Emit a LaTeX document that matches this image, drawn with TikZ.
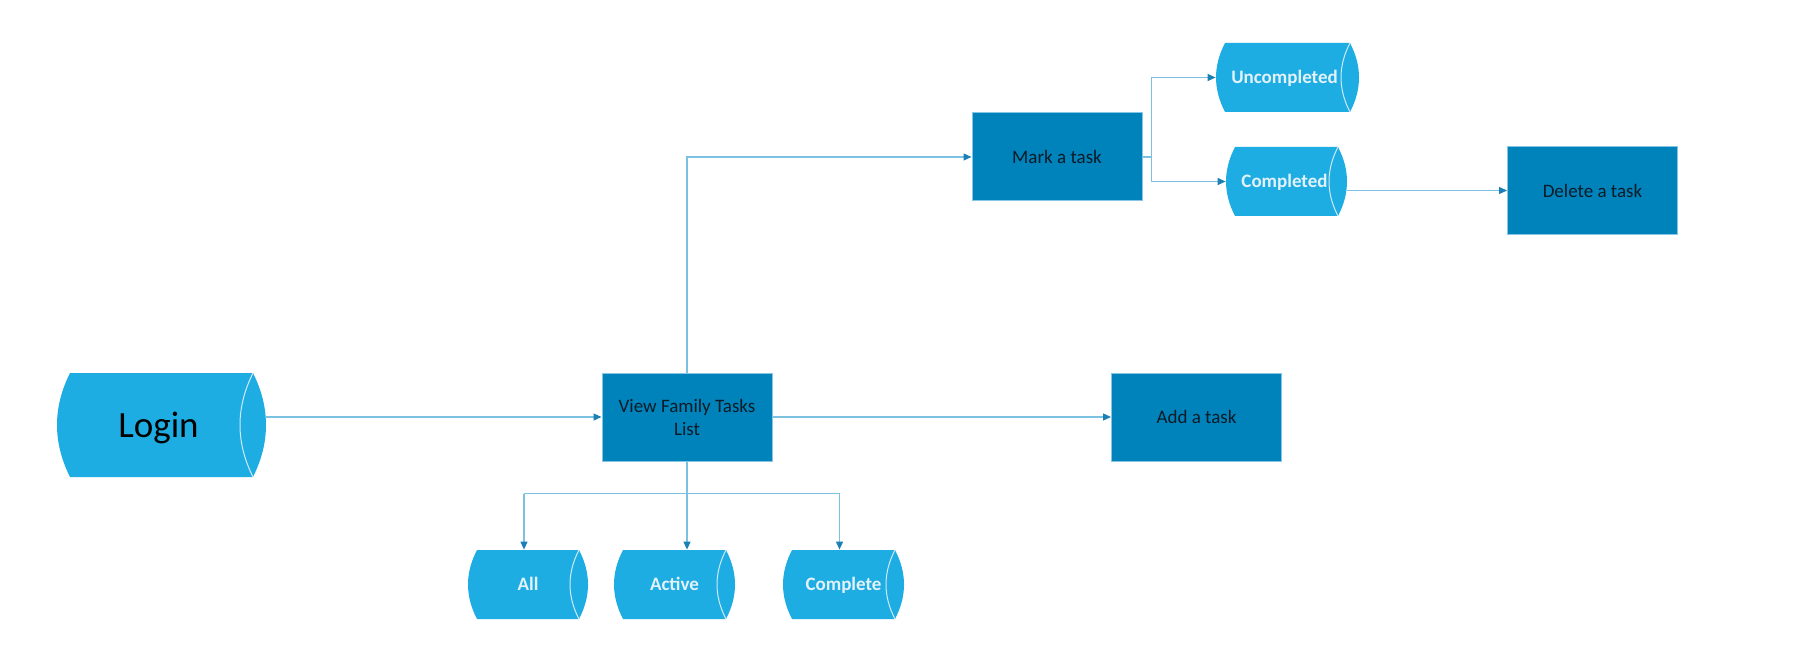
\documentclass[tikz,border=0pt]{standalone}
\usepackage{fontspec}
\setmainfont{Carlito}
\usetikzlibrary{arrows.meta}

\definecolor{boxblue}{HTML}{0083BA}
\definecolor{drumblue}{HTML}{1EADE3}
\definecolor{linkblue}{HTML}{7CC0E2}
\definecolor{tipblue}{HTML}{1A80B6}
\definecolor{rimwhite}{HTML}{CFEAF7}
\definecolor{boxedge}{HTML}{86C6E4}
\definecolor{darktext}{HTML}{0B1B28}
\definecolor{lighttext}{HTML}{E3F2FA}

\tikzset{
  stepbox/.style={rectangle, fill=boxblue, draw=boxedge, line width=0.5pt,
    minimum width=85pt, minimum height=44pt, inner sep=0pt, text=darktext,
    font=\fontsize{9.5pt}{11.5pt}\selectfont, align=center},
  drumlabel/.style={inner sep=0pt, text=lighttext, text height=6.1pt, text depth=0pt,
    font=\bfseries\fontsize{9.5pt}{11.5pt}\selectfont},
  biglabel/.style={inner sep=0pt, text=black, text height=12pt, text depth=0pt,
    font=\fontsize{18.5pt}{22pt}\selectfont},
  drumfill/.style={fill=drumblue},
  drumrim/.style={draw=rimwhite, line width=0.5pt},
  link/.style={draw=linkblue, line width=0.6pt},
  arrow/.style={link, -{Triangle[length=4pt,width=3.5pt,color=tipblue]}},
}

% #1 label style, #2 name, #3 cx, #4 cy, #5 half flat width, #6 half height, #7 bulge, #8 text
\newcommand\drum[8]{%
  \fill[drumfill] ({#3-#5},{#4-#6}) -- ({#3+#5},{#4-#6})
    .. controls ({#3+#5+4*#7/3},{#4-#6/3}) and ({#3+#5+4*#7/3},{#4+#6/3}) .. ({#3+#5},{#4+#6})
    -- ({#3-#5},{#4+#6})
    .. controls ({#3-#5-4*#7/3},{#4+#6/3}) and ({#3-#5-4*#7/3},{#4-#6/3}) .. cycle;
  \draw[drumrim] ({#3+#5},{#4-#6})
    .. controls ({#3+#5-4*#7/3},{#4-#6/3}) and ({#3+#5-4*#7/3},{#4+#6/3}) .. ({#3+#5},{#4+#6});
  \node[#1, minimum width={(#5+#7)*1pt}, minimum height={#6*1pt}] (#2) at (#3,#4) {#8};
}

\begin{document}
\begin{tikzpicture}[x=0.5pt, y=-0.5pt]
  \useasboundingbox (0,0) rectangle (1797,663);

  % storage-style drums
  \drum{biglabel}{login}{161.5}{425}{91.5}{52}{13}{Login\hspace*{3pt}}
  \drum{drumlabel}{all}{528}{584.5}{51}{34.5}{9}{All}
  \drum{drumlabel}{active}{674.5}{584.5}{51.5}{34.5}{9}{Active}
  \drum{drumlabel}{complete}{843.5}{584.5}{51.5}{34.5}{9}{Complete}
  \drum{drumlabel}{uncompleted}{1287.5}{77.5}{62.5}{34.5}{9}{Uncompleted\hspace*{3pt}}
  \drum{drumlabel}{completed}{1286.5}{181.5}{51.5}{34.5}{9}{Completed\hspace*{2pt}}

  % process boxes
  \node[stepbox] (vftl)   at (687,417)      {View Family Tasks\\List};
  \node[stepbox] (mark)   at (1057,157)     {Mark a task};
  \node[stepbox] (add)    at (1196.5,417)   {Add a task};
  \node[stepbox] (delete) at (1592.5,190.5) {Delete a task};

  % connectors
  \draw[arrow] (vftl.west -| login.east) -- (vftl.west);
  \draw[arrow] (vftl.east) -- (add.west);
  \draw[arrow] (vftl.north) |- (mark.west);

  \coordinate (fork) at ([xshift=4.5pt]mark.east);
  \draw[link] (mark.east) -- (fork);
  \draw[arrow] (fork) |- (uncompleted.west);
  \draw[arrow] (fork) |- (completed.west);
  \draw[arrow] (delete.west -| completed.east) -- (delete.west);

  \coordinate (bus) at ([yshift=-16pt]vftl.south);
  \coordinate (dropAll) at ([xshift=-2pt]all.north);
  \coordinate (dropComplete) at ([xshift=-2pt]complete.north);
  \draw[link] (vftl.south) -- (bus);
  \draw[link] (bus -| dropAll) -- (bus -| dropComplete);
  \draw[arrow] (bus -| dropAll) -- (dropAll);
  \draw[arrow] (bus) -- (bus |- active.north);
  \draw[arrow] (bus -| dropComplete) -- (dropComplete);
\end{tikzpicture}
\end{document}
